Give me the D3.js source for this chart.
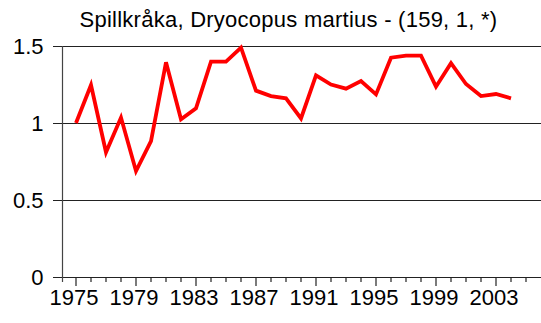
<!DOCTYPE html>
<html>
<head>
<meta charset="utf-8">
<script src="https://cdn.jsdelivr.net/npm/d3@7"></script>
<style>
  html, body { margin: 0; padding: 0; background: #fff; }
  svg { display: block; font-family: "Liberation Sans", Arial, sans-serif; }
</style>
</head>
<body>
<svg id="chart" width="541" height="323"></svg>
<script>
// Index series for the black woodpecker, 1975–2004
const years = d3.range(1975, 2005);
const indexValues = [
  1.00, 1.247, 0.81, 1.035, 0.688, 0.883, 1.394, 1.024, 1.095, 1.398,
  1.398, 1.489, 1.21, 1.175, 1.16, 1.03, 1.31, 1.25, 1.223, 1.273,
  1.186, 1.424, 1.437, 1.437, 1.236, 1.388, 1.253, 1.175, 1.188, 1.16
];
const yTicks = [0, 0.5, 1, 1.5];
const yTickLabels = ["0", "0.5", "1", "1.5"];
const xLabelYears = [1975, 1979, 1983, 1987, 1991, 1995, 1999, 2003];
const minorYears = d3.range(1975, 2006);
const title = "Spillkråka, Dryocopus martius - (159, 1, *)";

const svg = d3.select("#chart");
const plotLeft = 62.5, plotRight = 541, plotTop = 46, plotBottom = 277;

const x = d3.scaleLinear().domain([1974.1, 2006]).range([plotLeft, plotRight]);
const y = d3.scaleLinear().domain([0, 1.5]).range([plotBottom, plotTop]);

// Title
svg.append("text")
  .attr("x", 288.5).attr("y", 27)
  .attr("text-anchor", "middle")
  .attr("font-size", 22)
  .attr("letter-spacing", 0.25)
  .attr("fill", "#000")
  .text(title);

// Horizontal gridlines with short outer ticks
const yAxis = d3.axisLeft(y)
  .tickValues(yTicks)
  .tickFormat((d, i) => yTickLabels[i])
  .tickSize(-(plotRight - plotLeft))
  .tickSizeOuter(0);
const gy = svg.append("g").attr("transform", `translate(${plotLeft},0)`).call(yAxis);
gy.select(".domain").remove();
gy.selectAll(".tick line")
  .attr("x1", -9.5)
  .attr("stroke", "#222")
  .attr("stroke-width", 1.2);
gy.selectAll(".tick text")
  .attr("x", -19)
  .attr("dy", "0.36em")
  .attr("font-size", 22)
  .attr("font-family", "Liberation Sans, Arial, sans-serif")
  .attr("fill", "#000");

// Vertical axis line
svg.append("line")
  .attr("x1", plotLeft).attr("x2", plotLeft)
  .attr("y1", plotTop).attr("y2", plotBottom + 5)
  .attr("stroke", "#444").attr("stroke-width", 1.2);

// Year ticks: short for every year, longer for labelled years
const gx = svg.append("g").attr("transform", `translate(0,${plotBottom})`);
gx.selectAll("line.minor")
  .data(minorYears)
  .join("line")
  .attr("class", "minor")
  .attr("x1", d => x(d)).attr("x2", d => x(d))
  .attr("y1", 0)
  .attr("y2", d => xLabelYears.includes(d) ? 9 : 5)
  .attr("stroke", "#222").attr("stroke-width", 1.2);
gx.selectAll("text")
  .data(xLabelYears)
  .join("text")
  .attr("x", d => x(d) - 2)
  .attr("y", 27.5)
  .attr("text-anchor", "middle")
  .attr("font-size", 22)
  .attr("fill", "#000")
  .text(d => d);

// Series line
const line = d3.line()
  .x((d, i) => x(years[i]))
  .y(d => y(d));
svg.append("path")
  .datum(indexValues)
  .attr("d", line)
  .attr("fill", "none")
  .attr("stroke", "#ff0000")
  .attr("stroke-width", 3.8)
  .attr("stroke-linejoin", "miter");
</script>
</body>
</html>
